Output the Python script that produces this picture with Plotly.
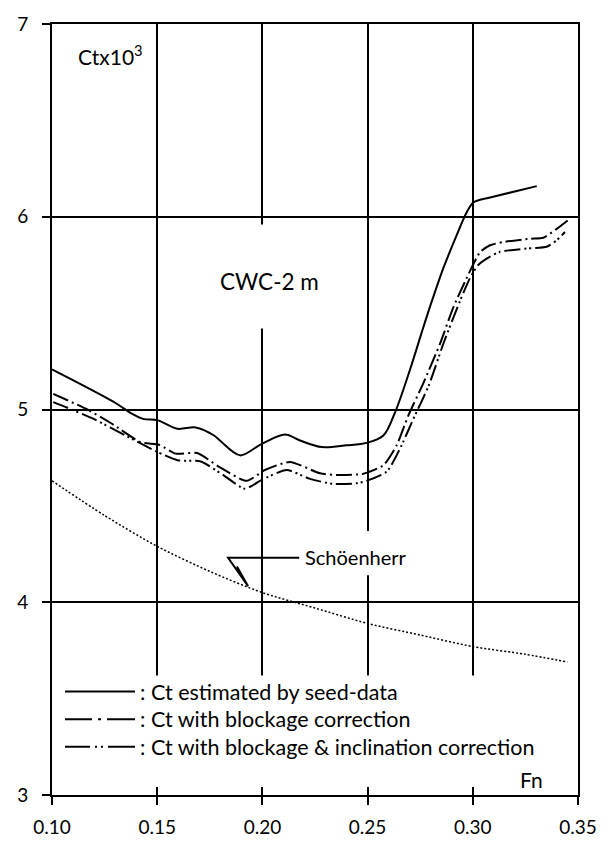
import plotly.graph_objects as go

# ---- data ----
fn_seed = [0.100, 0.130, 0.1377, 0.1437, 0.150, 0.1596, 0.1683, 0.177, 0.1798, 0.1894, 0.1997,
           0.2107, 0.2179, 0.2282, 0.240, 0.2496, 0.2575, 0.263, 0.2701, 0.278, 0.286, 0.2923,
           0.2971, 0.3002, 0.3034, 0.3082, 0.3304]
ct_seed = [5.208, 5.035, 4.98, 4.95, 4.945, 4.90, 4.907, 4.865, 4.839, 4.762, 4.822,
           4.870, 4.839, 4.805, 4.814, 4.827, 4.865, 4.984, 5.205, 5.478, 5.733, 5.903,
           6.023, 6.074, 6.088, 6.10, 6.159]

fn_block = [0.1006, 0.1168, 0.1279, 0.1422, 0.1509, 0.1588, 0.169, 0.1798, 0.1925, 0.2012,
            0.2131, 0.2274, 0.2369, 0.248, 0.2575, 0.2638, 0.2693, 0.2765, 0.2844, 0.2907,
            0.2971, 0.3034, 0.3082, 0.3145, 0.3272, 0.3335, 0.3399, 0.3454]
ct_block = [5.081, 5.00, 4.93, 4.83, 4.817, 4.771, 4.774, 4.70, 4.63, 4.686,
            4.728, 4.669, 4.66, 4.667, 4.711, 4.814, 4.967, 5.137, 5.341, 5.529,
            5.682, 5.815, 5.852, 5.869, 5.886, 5.891, 5.937, 5.983]

fn_incl = [0.1006, 0.1073, 0.120, 0.135, 0.150, 0.1596, 0.1707, 0.1814, 0.1917, 0.1997,
           0.2115, 0.2226, 0.2337, 0.2464, 0.259, 0.2654, 0.2717, 0.2789, 0.286, 0.2939,
           0.2987, 0.3026, 0.3082, 0.3129, 0.3256, 0.3351, 0.3399, 0.3438]
ct_incl = [5.038, 5.009, 4.95, 4.865, 4.78, 4.737, 4.73, 4.66, 4.589, 4.635,
           4.686, 4.64, 4.614, 4.62, 4.677, 4.797, 4.95, 5.12, 5.341, 5.563,
           5.682, 5.75, 5.793, 5.818, 5.835, 5.844, 5.878, 5.921]

fn_schoen = [0.100, 0.125, 0.150, 0.175, 0.200, 0.225, 0.250, 0.275, 0.300, 0.325, 0.345]
ct_schoen = [4.63, 4.45, 4.29, 4.16, 4.05, 3.97, 3.89, 3.83, 3.77, 3.73, 3.69]

names = [": Ct estimated by seed-data",
         ": Ct with blockage correction",
         ": Ct with blockage & inclination correction"]

x_ticks = [0.10, 0.15, 0.20, 0.25, 0.30, 0.35]
x_ticklabels = ["0.10", "0.15", "0.20", "0.25", "0.30", "0.35"]
y_ticks = [3, 4, 5, 6, 7]

FONT = "Lato"
BLACK = "#000000"
DASH_BLOCK = "16px,4px,2px,4px"
DASH_INCL = "16px,4px,2px,3px,2px,4px"
LEG_DASH = ["solid", "27px,6px,3px,6px,28px", "25px,5px,2px,4px,2px,5px,27px"]

fig = go.Figure()
fig.add_trace(go.Scatter(x=fn_seed, y=ct_seed, mode="lines", name=names[0],
                         line=dict(color=BLACK, width=2, shape="spline", smoothing=0.9)))
fig.add_trace(go.Scatter(x=fn_block, y=ct_block, mode="lines", name=names[1],
                         line=dict(color=BLACK, width=2, dash=DASH_BLOCK,
                                   shape="spline", smoothing=0.6)))
fig.add_trace(go.Scatter(x=fn_incl, y=ct_incl, mode="lines", name=names[2],
                         line=dict(color=BLACK, width=2, dash=DASH_INCL,
                                   shape="spline", smoothing=0.6)))
fig.add_trace(go.Scatter(x=fn_schoen, y=ct_schoen, mode="lines", name="Schöenherr",
                         line=dict(color=BLACK, width=1.5, dash="2px,2px",
                                   shape="spline", smoothing=0.8)))
# invisible trace to host the inside ticks of the x axis
fig.add_trace(go.Scatter(x=[0.10, 0.35], y=[3, 3], xaxis="x2", mode="lines",
                         line=dict(width=0), hoverinfo="skip"))

# white patches that interrupt the grid behind labels and legend
fig.add_shape(type="rect", layer="between", xref="x", yref="y",
              x0=0.1005, x1=0.3465, y0=3.012, y1=3.62,
              fillcolor="white", line=dict(width=0))
fig.add_shape(type="rect", layer="between", xref="x", yref="y",
              x0=0.185, x1=0.225, y0=5.42, y1=5.96,
              fillcolor="white", line=dict(width=0))
fig.add_shape(type="rect", layer="between", xref="x", yref="y",
              x0=0.235, x1=0.265, y0=4.14, y1=4.37,
              fillcolor="white", line=dict(width=0))
# Schöenherr leader
fig.add_shape(type="path", xref="x", yref="y",
              path="M0.2175,4.231 L0.1837,4.231 L0.1932,4.083 M0.1879,4.185 L0.1932,4.083",
              line=dict(color=BLACK, width=2))

# legend drawn by hand (line sample + text)
PLOT_L, PLOT_W, PLOT_B, PLOT_H = 52, 526, 805, 783
leg_rows_px = [700, 728, 756]
for name, dash, py in zip(names, LEG_DASH, leg_rows_px):
    yp = (PLOT_B - py) / PLOT_H
    fig.add_shape(type="line", xref="paper", yref="paper",
                  x0=(65 - PLOT_L) / PLOT_W, x1=(135 - PLOT_L) / PLOT_W, y0=yp, y1=yp,
                  line=dict(color=BLACK, width=2, dash=dash))
    fig.add_annotation(x=(138 - PLOT_L) / PLOT_W, y=yp, xref="paper", yref="paper",
                       text=name, showarrow=False, xanchor="left", yanchor="middle",
                       font=dict(family=FONT, size=21.5, color=BLACK))

fig.add_annotation(x=0.1115, y=6.84, xref="x", yref="y", text="Ctx10<sup>3</sup>",
                   showarrow=False, xanchor="left", font=dict(family=FONT, size=21, color=BLACK))
fig.add_annotation(x=0.2036, y=5.665, xref="x", yref="y", text="CWC-2 m",
                   showarrow=False, font=dict(family=FONT, size=22.5, color=BLACK))
fig.add_annotation(x=0.2195, y=4.236, xref="x", yref="y", text="Schöenherr",
                   showarrow=False, xanchor="left", font=dict(family=FONT, size=20, color=BLACK))
fig.add_annotation(x=0.3277, y=3.08, xref="x", yref="y", text="Fn",
                   showarrow=False, font=dict(family=FONT, size=21, color=BLACK))

fig.update_layout(
    width=611, height=850,
    margin=dict(l=52, r=33, t=22, b=45),
    paper_bgcolor="white", plot_bgcolor="white",
    font=dict(family=FONT, size=19, color=BLACK),
    showlegend=False,
    xaxis=dict(range=[0.10, 0.35], tickvals=x_ticks, ticktext=x_ticklabels,
               showgrid=True, gridcolor=BLACK, gridwidth=1.5,
               showline=True, linecolor=BLACK, linewidth=2, mirror=True,
               ticks="outside", ticklen=8, tickwidth=1.5, tickcolor=BLACK,
               ticklabelstandoff=6, zeroline=False,
               tickfont=dict(family=FONT, size=19, color=BLACK)),
    xaxis2=dict(range=[0.10, 0.35], overlaying="x", anchor="y", side="bottom",
                tickvals=x_ticks, showticklabels=False, showgrid=False,
                ticks="inside", ticklen=8, tickwidth=1.5, tickcolor=BLACK,
                showline=False, zeroline=False),
    yaxis=dict(range=[3, 7], tickvals=y_ticks,
               showgrid=True, gridcolor=BLACK, gridwidth=1.5,
               showline=True, linecolor=BLACK, linewidth=2, mirror=True,
               ticks="outside", ticklen=8, tickwidth=1.5, tickcolor=BLACK,
               ticklabelstandoff=10, zeroline=False,
               tickfont=dict(family=FONT, size=19, color=BLACK)),
)

fig.write_html("out.html")
